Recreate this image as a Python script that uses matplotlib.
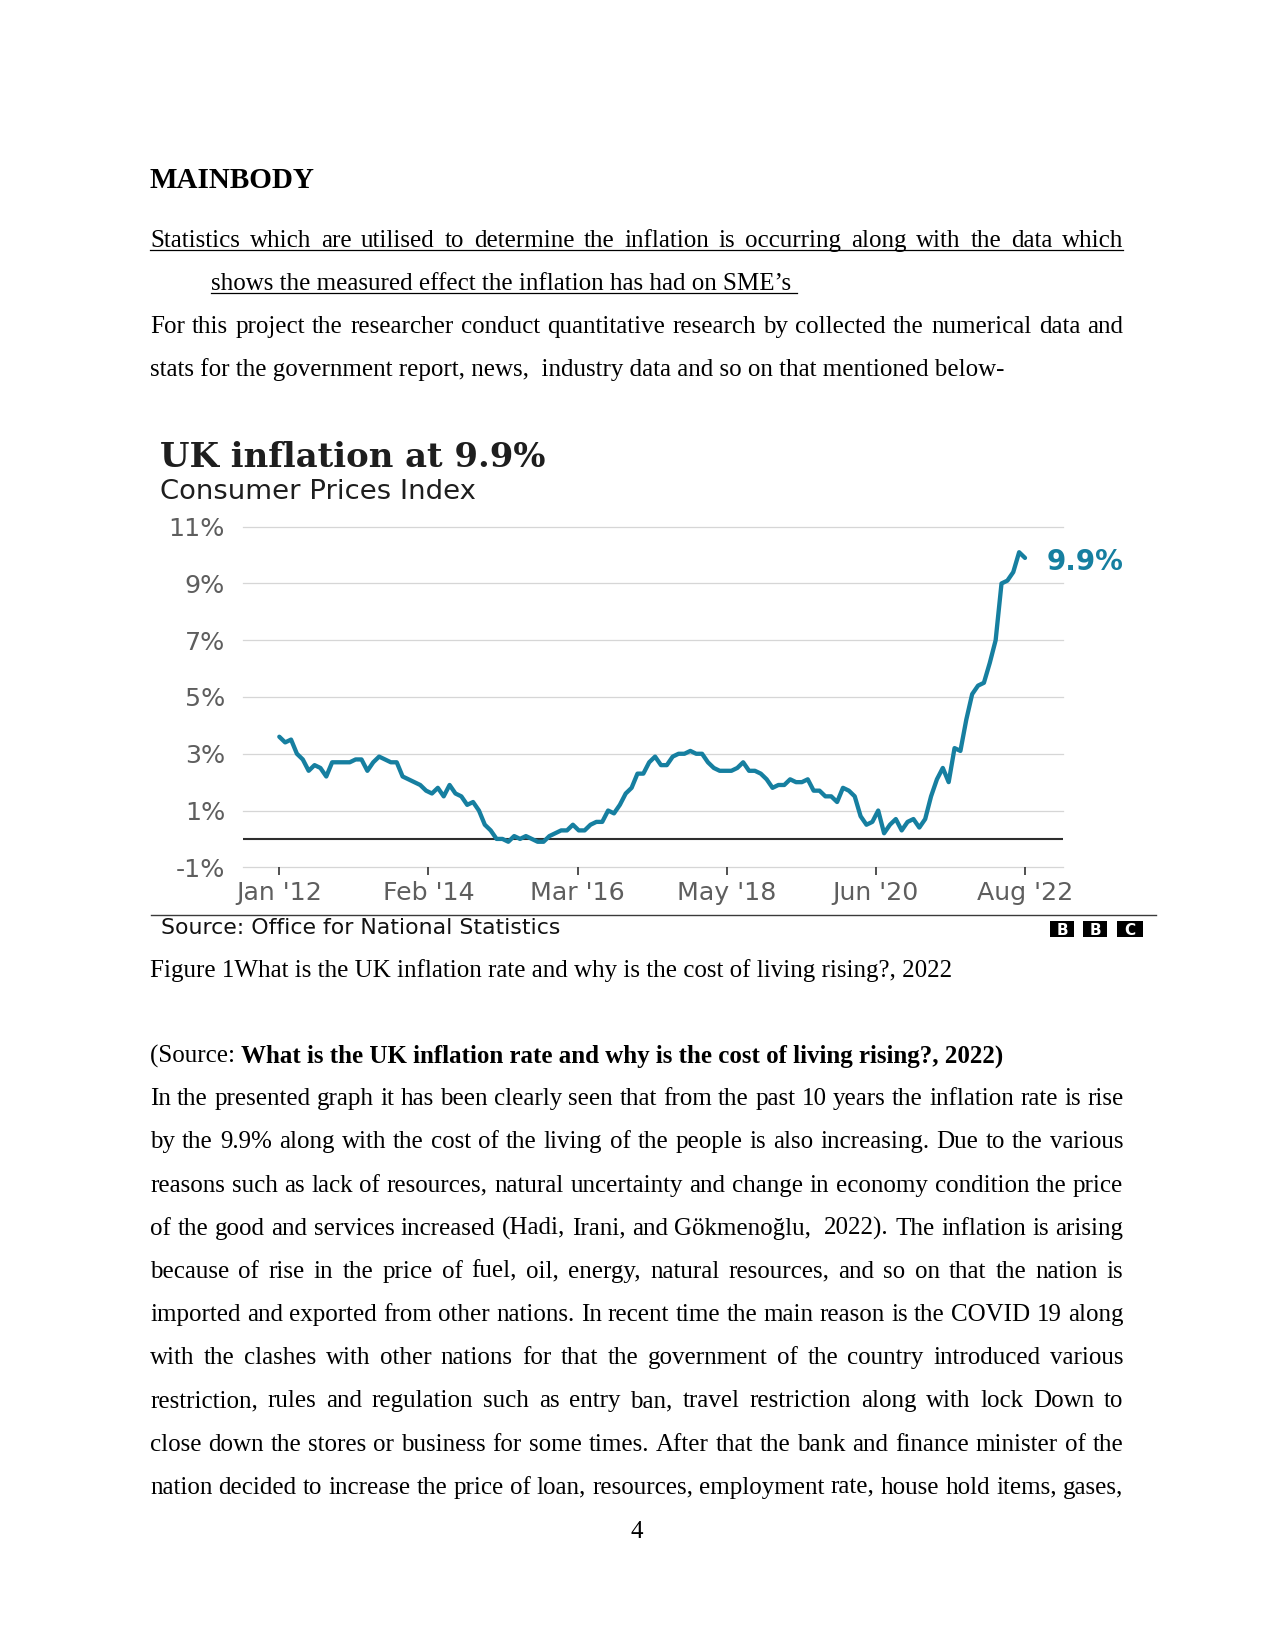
import matplotlib
matplotlib.use("Agg")
import matplotlib.pyplot as plt
from matplotlib.patches import Rectangle
from matplotlib.lines import Line2D

# ---------------- data ----------------
cpi_2012 = [3.6, 3.4, 3.5, 3.0, 2.8, 2.4, 2.6, 2.5, 2.2, 2.7, 2.7, 2.7]
cpi_2013 = [2.7, 2.8, 2.8, 2.4, 2.7, 2.9, 2.8, 2.7, 2.7, 2.2, 2.1, 2.0]
cpi_2014 = [1.9, 1.7, 1.6, 1.8, 1.5, 1.9, 1.6, 1.5, 1.2, 1.3, 1.0, 0.5]
cpi_2015 = [0.3, 0.0, 0.0, -0.1, 0.1, 0.0, 0.1, 0.0, -0.1, -0.1, 0.1, 0.2]
cpi_2016 = [0.3, 0.3, 0.5, 0.3, 0.3, 0.5, 0.6, 0.6, 1.0, 0.9, 1.2, 1.6]
cpi_2017 = [1.8, 2.3, 2.3, 2.7, 2.9, 2.6, 2.6, 2.9, 3.0, 3.0, 3.1, 3.0]
cpi_2018 = [3.0, 2.7, 2.5, 2.4, 2.4, 2.4, 2.5, 2.7, 2.4, 2.4, 2.3, 2.1]
cpi_2019 = [1.8, 1.9, 1.9, 2.1, 2.0, 2.0, 2.1, 1.7, 1.7, 1.5, 1.5, 1.3]
cpi_2020 = [1.8, 1.7, 1.5, 0.8, 0.5, 0.6, 1.0, 0.2, 0.5, 0.7, 0.3, 0.6]
cpi_2021 = [0.7, 0.4, 0.7, 1.5, 2.1, 2.5, 2.0, 3.2, 3.1, 4.2, 5.1, 5.4]
cpi_2022 = [5.5, 6.2, 7.0, 9.0, 9.1, 9.4, 10.1, 9.9]

x_tick_pos = [0, 25.4, 50.8, 76.2, 101.6, 127]
x_tick_labels = ["Jan '12", "Feb '14", "Mar '16", "May '18", "Jun '20", "Aug '22"]
y_ticks = [-1, 1, 3, 5, 7, 9, 11]
y_tick_labels = ["-1%", "1%", "3%", "5%", "7%", "9%", "11%"]
last_label = "9.9%"

chart_title = "UK inflation at 9.9%"
chart_subtitle = "Consumer Prices Index"
chart_source = "Source: Office for National Statistics"
logo_letters = ["B", "B", "C"]

heading = "MAINBODY"
under_line1 = "Statistics which are utilised to determine the inflation is occurring along with the data which"
under_line2 = "shows the measured effect the inflation has had on SME\u2019s"
para1 = ["For this project the researcher conduct quantitative research by collected the numerical data and",
         "stats for the government report, news,  industry data and so on that mentioned below-"]
caption = "Figure 1What is the UK inflation rate and why is the cost of living rising?, 2022"
source_prefix = "(Source: "
source_bold = "What is the UK inflation rate and why is the cost of living rising?, 2022)"
body_lines = [
    "In the presented graph it has been clearly seen that from the past 10 years the inflation rate is rise",
    "by the 9.9% along with the cost of the living of the people is also increasing. Due to the various",
    "reasons such as lack of resources, natural uncertainty and change in economy condition the price",
    "of the good and services increased (Hadi, Irani, and G\u00f6kmeno\u011flu,  2022). The inflation is arising",
    "because of rise in the price of fuel, oil, energy, natural resources, and so on that the nation is",
    "imported and exported from other nations. In recent time the main reason is the COVID 19 along",
    "with the clashes with other nations for that the government of the country introduced various",
    "restriction, rules and regulation such as entry ban, travel restriction along with lock Down to",
    "close down the stores or business for some times. After that the bank and finance minister of the",
    "nation decided to increase the price of loan, resources, employment rate, house hold items, gases,",
]
page_number = "4"

cpi = (cpi_2012 + cpi_2013 + cpi_2014 + cpi_2015 + cpi_2016 + cpi_2017 +
       cpi_2018 + cpi_2019 + cpi_2020 + cpi_2021 + cpi_2022)
months = list(range(len(cpi)))

# ---------------- page setup ----------------
W, H, DPI = 1275, 1651, 100
fig = plt.figure(figsize=(W / DPI, H / DPI), dpi=DPI)
fig.patch.set_facecolor("white")
renderer = fig.canvas.get_renderer()


def fx(px):
    return px / W


def fy(py):
    return 1 - py / H


def measure(s, **kw):
    t = fig.text(0, 0, s, **kw)
    w = t.get_window_extent(renderer=renderer).width
    t.remove()
    return w


def fit_size(s, target_w, cap_px, cap_ratio=0.729, wexp=0.7, **kw):
    w10 = measure(s, fontsize=10, **kw)
    fw = 10 * target_w / w10
    fh = cap_px / cap_ratio * 72 / DPI
    return fw ** wexp * fh ** (1 - wexp)


SERIF = "Liberation Serif"
BODY = 18
LEFT, RIGHT = 150.0, 1123.3
body_kw = dict(family=SERIF, fontsize=BODY, color="black")


def justified(line, y, x0=LEFT, x1=RIGHT, **kw):
    words = line.split(" ")
    widths = [measure(w, **kw) if w else 0.0 for w in words]
    gap = (x1 - x0 - sum(widths)) / (len(words) - 1)
    x = x0
    for w, wd in zip(words, widths):
        if w:
            fig.text(fx(x), fy(y), w, ha="left", va="baseline", **kw)
        x += wd + gap


def plain(line, x, y, **kw):
    fig.text(fx(x), fy(y), line, ha="left", va="baseline", **kw)


def hline(x0, x1, y, lw=0.9, color="black"):
    fig.add_artist(Line2D([fx(x0), fx(x1)], [fy(y), fy(y)], color=color, lw=lw,
                          transform=fig.transFigure))


space_w = measure("a a", **body_kw) - measure("aa", **body_kw)

# heading
plain(heading, LEFT, 188.3, family=SERIF, fontsize=21, weight="bold", color="black")

# underlined sub-heading
justified(under_line1, 246.7, **body_kw)
hline(LEFT, RIGHT, 250.2)
plain(under_line2, 210.6, 289.5, **body_kw)
hline(210.6, 210.6 + measure(under_line2, **body_kw) + space_w, 293.0)

justified(para1[0], 332.6, **body_kw)
plain(para1[1], LEFT, 375.8, **body_kw)

# ---------------- chart ----------------
TEAL = "#167FA0"
x0_px, xend_px = 279.3, 1025.0
ppm = (xend_px - x0_px) / (len(cpi) - 1)
ax_l, ax_r = 242.7, 1063.3
y11_px, ym1_px = 526.7, 867.3
ppp = (ym1_px - y11_px) / 12.0
ytop = 11.3
ax_top_px = y11_px - (ytop - 11) * ppp

ax = fig.add_axes([fx(ax_l), fy(ym1_px), (ax_r - ax_l) / W, (ym1_px - ax_top_px) / H])
ax.set_xlim((ax_l - x0_px) / ppm, (ax_r - x0_px) / ppm)
ax.set_ylim(-1, ytop)
for s in ax.spines.values():
    s.set_visible(False)
ax.set_facecolor("none")

for v in y_ticks:
    ax.axhline(v, color="#d6d6d6", lw=0.9, zorder=1, clip_on=False)
ax.axhline(0, color="#2e2e2e", lw=1.5, zorder=2)

ax.plot(months, cpi, color=TEAL, lw=3.1, solid_joinstyle="round",
        solid_capstyle="round", zorder=3, clip_on=False)

tick_fs = fit_size(x_tick_labels[0], 99, 13.3, family="DejaVu Sans")
ax.set_xticks(x_tick_pos)
ax.set_xticklabels(x_tick_labels)
ax.tick_params(axis="x", length=7.7 * 72 / DPI, width=1.2, color="#333333",
               pad=(900 - 875) * 72 / DPI, labelsize=tick_fs, labelcolor="#5e5e5e")
for lab in ax.get_xticklabels():
    lab.set_va("baseline")
    lab.set_family("DejaVu Sans")

ytick_fs = fit_size(y_tick_labels[-1], 64.3, 13.6, family="DejaVu Sans")
ax.set_yticks(y_ticks)
ax.set_yticklabels(y_tick_labels)
ax.tick_params(axis="y", length=0, pad=(ax_l - 225) * 72 / DPI,
               labelsize=ytick_fs, labelcolor="#5e5e5e")
for lab in ax.get_yticklabels():
    lab.set_va("center_baseline")
    lab.set_family("DejaVu Sans")

lab_fs = fit_size(last_label, 85, 16, family="DejaVu Sans", weight="bold")
ax.annotate(last_label, xy=(months[-1], cpi[-1]), xytext=((1046.7 - xend_px) * 72 / DPI, -1.0),
            textcoords="offset points", ha="left", va="center_baseline",
            family="DejaVu Sans", weight="bold", fontsize=lab_fs, color=TEAL,
            annotation_clip=False)

title_fs = fit_size(chart_title, 433, 19, family="DejaVu Serif", weight="bold")
plain(chart_title, 160, 467.3, family="DejaVu Serif", weight="bold", fontsize=title_fs, color="#1e1e1e")
sub_fs = fit_size(chart_subtitle, 362, 14.3, family="DejaVu Sans")
plain(chart_subtitle, 160, 499.3, family="DejaVu Sans", fontsize=sub_fs, color="#1e1e1e")

hline(150.6, 1156, 915, lw=1.0, color="#3a3a3a")
src_fs = fit_size(chart_source, 422, 14, family="DejaVu Sans")
plain(chart_source, 161, 934, family="DejaVu Sans", fontsize=src_fs, color="#111111")

logo_boxes = [(1050, 1074), (1083, 1107), (1117, 1143)]
for (bx0, bx1), letter in zip(logo_boxes, logo_letters):
    fig.add_artist(Rectangle((fx(bx0), fy(936.7)), (bx1 - bx0) / W, (936.7 - 920.7) / H,
                             transform=fig.transFigure, facecolor="black", edgecolor="none"))
    fig.text(fx((bx0 + bx1) / 2), fy(929.0), letter, ha="center", va="center_baseline",
             family="DejaVu Sans", weight="bold", fontsize=11, color="white")

# ---------------- text below chart ----------------
plain(caption, LEFT, 976.5, **body_kw)
plain(source_prefix, LEFT, 1062.5, **body_kw)
pw = measure(source_prefix.strip(), **body_kw) + space_w
plain(source_bold, LEFT + pw, 1062.5, family=SERIF, fontsize=BODY, weight="bold", color="black")

for i, line in enumerate(body_lines):
    justified(line, 1105.3 + 43.15 * i, **body_kw)

fig.text(fx(637), fy(1538.3), page_number, ha="center", va="baseline", **body_kw)

fig.savefig("out.png", dpi=DPI, facecolor="white")
